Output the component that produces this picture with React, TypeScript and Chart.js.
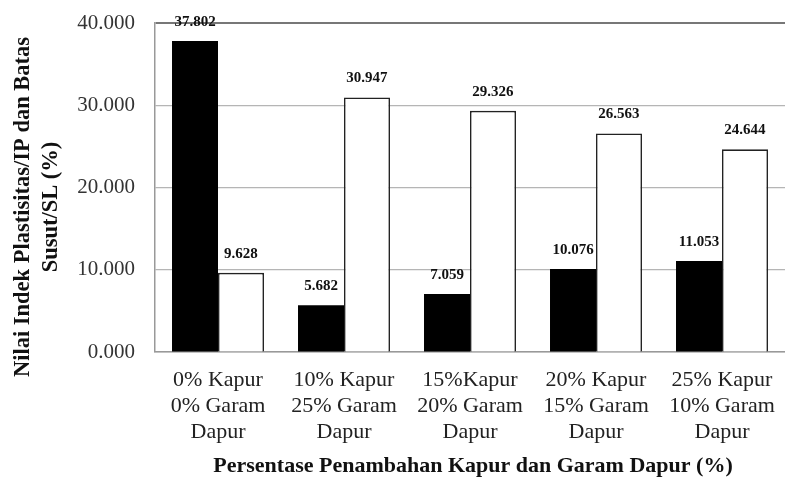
import React, { useEffect, useRef } from "react";
import { Chart, registerables } from "chart.js";

Chart.register(...registerables);

const categories: string[][] = [
  ["0% Kapur", "0% Garam", "Dapur"],
  ["10% Kapur", "25% Garam", "Dapur"],
  ["15%Kapur", "20% Garam", "Dapur"],
  ["20% Kapur", "15% Garam", "Dapur"],
  ["25% Kapur", "10% Garam", "Dapur"],
];
const ipValues = [37.802, 5.682, 7.059, 10.076, 11.053];
const slValues = [9.628, 30.947, 29.326, 26.563, 24.644];
const yTitleLines = ["Nilai Indek Plastisitas/IP dan Batas", "Susut/SL (%)"];
const xTitle = "Persentase Penambahan Kapur dan Garam Dapur (%)";

const SERIF = "'Liberation Serif', 'Times New Roman', serif";

const labelsPlugin = {
  id: "customLabels",
  afterDatasetsDraw(chart: any) {
    const ctx = chart.ctx;
    ctx.save();
    ctx.font = `bold 15px ${SERIF}`;
    ctx.fillStyle = "#111";
    ctx.textAlign = "center";
    ctx.textBaseline = "middle";
    chart.data.datasets.forEach((ds: any, di: number) => {
      const meta = chart.getDatasetMeta(di);
      meta.data.forEach((bar: any, i: number) => {
        const v = ds.data[i] as number;
        ctx.fillText(v.toFixed(3), bar.x, bar.y - 19);
      });
    });
    ctx.restore();
  },
  afterDraw(chart: any) {
    const ctx = chart.ctx;
    ctx.save();
    ctx.fillStyle = "#111";
    ctx.font = `bold 22px ${SERIF}`;
    ctx.textAlign = "center";
    ctx.textBaseline = "middle";
    ctx.fillText(xTitle, 473, 466);
    const cy = 207;
    ctx.font = `bold 22.5px ${SERIF}`;
    ctx.save();
    ctx.translate(23, cy);
    ctx.rotate(-Math.PI / 2);
    ctx.fillText(yTitleLines[0], 0, 0);
    ctx.restore();
    ctx.save();
    ctx.translate(51, cy);
    ctx.rotate(-Math.PI / 2);
    ctx.fillText(yTitleLines[1], 0, 0);
    ctx.restore();
    ctx.restore();
  },
};

export default function App() {
  const ref = useRef<HTMLCanvasElement | null>(null);
  useEffect(() => {
    if (!ref.current) return;
    const chart = new Chart(ref.current, {
      type: "bar",
      data: {
        labels: categories,
        datasets: [
          {
            label: "IP",
            data: ipValues,
            backgroundColor: "#000",
            borderColor: "#000",
            borderWidth: 0,
          },
          {
            label: "SL",
            data: slValues,
            backgroundColor: "#fff",
            borderColor: "#222",
            borderWidth: 1.6,
          },
        ],
      },
      options: {
        animation: false,
        responsive: false,
        maintainAspectRatio: false,
        layout: { padding: { left: 0, right: 0, top: 23, bottom: 0 } },
        plugins: {
          legend: { display: false },
          tooltip: { enabled: false },
          title: { display: false },
        },
        datasets: {
          bar: { categoryPercentage: 0.73, barPercentage: 1 },
        },
        scales: {
          x: {
            grid: { display: false, drawTicks: false },
            border: { display: true, color: "#999", width: 1.5 },
            ticks: {
              color: "#222",
              font: { family: SERIF, size: 22, lineHeight: "26px" },
              padding: 15,
              maxRotation: 0,
              autoSkip: false,
            },
            afterFit(scale: any) {
              scale.height = 126;
              scale.paddingLeft = 0;
              scale.paddingRight = 0;
            },
          },
          y: {
            min: 0,
            max: 40,
            ticks: {
              stepSize: 10,
              color: "#333",
              font: { family: SERIF, size: 21, lineHeight: 1 },
              padding: 20,
              callback: (v: any) => Number(v).toFixed(3),
            },
            grid: {
              drawTicks: false,
              color: (c: any) => (c.tick && c.tick.value === 40 ? "#777" : "#b5b5b5"),
              lineWidth: (c: any) => (c.tick && c.tick.value === 40 ? 2 : 1.2),
            },
            border: { display: true, color: "#999", width: 1.5 },
            afterFit(scale: any) {
              scale.width = 155;
              scale.paddingTop = 0;
              scale.paddingBottom = 0;
            },
          },
        },
      },
      plugins: [labelsPlugin],
    });
    return () => chart.destroy();
  }, []);
  return (
    <div style={{ position: "fixed", left: 0, top: 0, width: 785, height: 478, background: "#fff" }}>
      <canvas ref={ref} width={785} height={478} style={{ width: 785, height: 478 }} />
    </div>
  );
}
